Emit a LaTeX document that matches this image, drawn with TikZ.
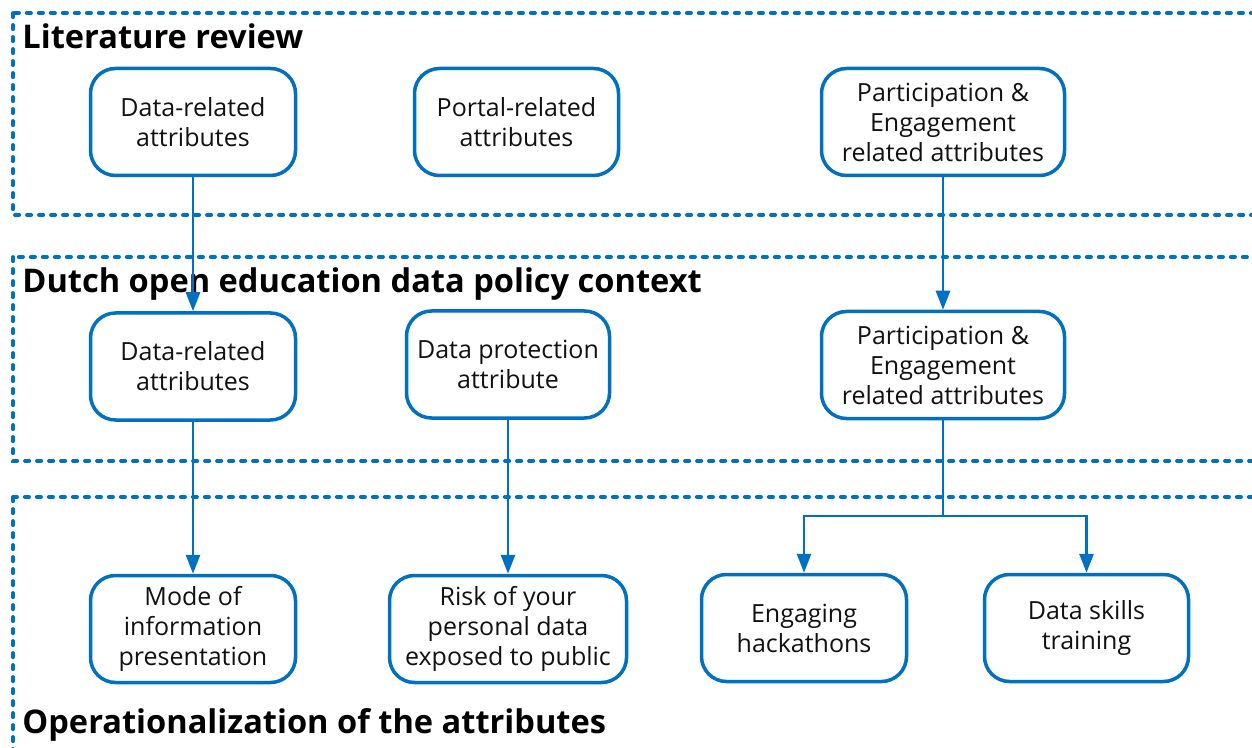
\documentclass[tikz,border=0pt]{standalone}
\usepackage{fontspec}
\setmainfont{Open Sans}
\usetikzlibrary{arrows.meta}
\definecolor{frameblue}{HTML}{0070C0}
\definecolor{inktext}{HTML}{111111}
\begin{document}
\begin{tikzpicture}[x=0.5pt,y=-0.5pt,
  zone/.style={draw=frameblue, line width=1.9pt, line cap=round,
    dash pattern=on 2.1pt off 3.9pt},
  attr/.style={draw=frameblue, line width=1.75pt, rounded corners=12.5pt,
    fill=white, align=center, inner sep=2pt, minimum height=53.5pt,
    text=inktext, font=\fontsize{12.5}{15}\selectfont},
  heading/.style={anchor=base west, inner sep=0pt, text=black,
    font=\fontsize{16.3}{19}\selectfont\bfseries},
  conn/.style={draw=frameblue, line width=1.4pt},
  arr/.style={conn, -{Triangle[length=9.5pt, width=7pt]}}]
  \clip (0,0) rectangle (1252,748);
  \fill[white] (0,0) rectangle (1252,748);

  % three stages, each an open dashed band
  \draw[zone] (13,13) rectangle (1290,215);
  \draw[zone] (13,257) rectangle (1290,461);
  \draw[zone] (13,497) rectangle (1290,800);

  \node[heading] (hlit) at (22,49) {Literature review};
  \node[heading] (hpol) at (22,293) {Dutch open education data policy context};
  \node[heading] (hop)  at (22,733) {Operationalization of the attributes};

  % literature review
  \node[attr, minimum width=102.5pt] (lit1) at (193,122) {Data-related\\attributes};
  \node[attr, minimum width=102pt]   (lit2) at (516.5,122) {Portal-related\\attributes};
  \node[attr, minimum width=121.5pt] (lit3) at (943,122) {Participation \&\\Engagement\\related attributes};

  % policy context
  \node[attr, minimum width=102.5pt] (pol1) at (193,366.5) {Data-related\\attributes};
  \node[attr, minimum width=101.5pt] (pol2) at (508,364.5) {Data protection\\attribute};
  \node[attr, minimum width=121.5pt] (pol3) at (943,365) {Participation \&\\Engagement\\related attributes};

  % operationalization
  \node[attr, minimum width=102.5pt] (op1) at (193,629) {Mode of\\information\\presentation};
  \node[attr, minimum width=118.5pt] (op2) at (508,629) {Risk of your\\personal data\\exposed to public};
  \node[attr, minimum width=102.5pt] (op3) at (804,628) {Engaging\\hackathons};
  \node[attr, minimum width=102pt]   (op4) at (1086.5,628) {Data skills\\training};

  % connectors
  \draw[arr] (lit1) -- (pol1);
  \draw[arr] (lit3) -- (pol3);
  \draw[arr] (pol1) -- (op1);
  \draw[arr] (pol2) -- (op2);
  \coordinate (split) at (943,516);
  \draw[conn] (pol3.south) -- (split);
  \draw[arr] (split) -| (op3.north);
  \draw[arr] (split) -| (op4.north);
\end{tikzpicture}
\end{document}
